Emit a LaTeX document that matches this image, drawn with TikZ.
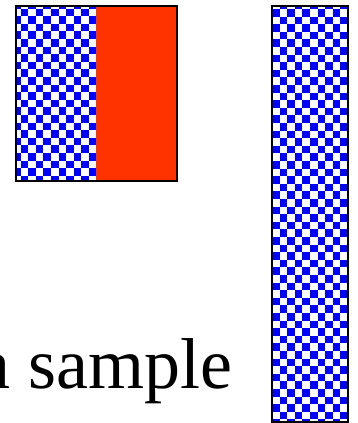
\documentclass[tikz,border=0pt]{standalone}
\usepackage{fontspec}
\setmainfont{Liberation Serif}
\definecolor{checkblue}{HTML}{0000FF}
\definecolor{blockred}{HTML}{FF3300}

\begin{document}
\begin{tikzpicture}[
  x=1pt, y=-1pt,
  frame/.style={draw=black, line width=1.8pt},
  cell/.style={fill=checkblue},
  word/.style={font=\fontsize{72}{80}\selectfont, inner sep=0pt}]

\useasboundingbox (0,0) rectangle (357,423);

% left block: checks and red
\begin{scope}
  \clip (16,6) rectangle (96,181);
  \fill[white] (16,6) rectangle (96,181);
  \foreach \i in {0,...,11}
    \foreach \j in {0,...,24} {
      \pgfmathtruncatemacro\k{mod(\i+\j,2)}
      \ifnum\k=0 \fill[cell] (13+7.6*\i,1+7.6*\j) rectangle ++(7.6,7.6); \fi
    }
\end{scope}
\fill[blockred] (96,6) rectangle (177,181);
\draw[frame] (16,6) rectangle (177,181);

% right tall bar
\begin{scope}
  \clip (272,6) rectangle (348,422);
  \fill[white] (272,6) rectangle (348,422);
  \foreach \i in {0,...,12}
    \foreach \j in {0,...,56} {
      \pgfmathtruncatemacro\k{mod(\i+\j,2)}
      \ifnum\k=0 \fill[cell] (264.4+7.6*\i,1.4+7.6*\j) rectangle ++(7.6,7.6); \fi
    }
\end{scope}
\draw[frame] (272,6) rectangle (348,422);

\node[word, anchor=base east] (sample) at (233,388) {a sample};
\end{tikzpicture}
\end{document}
